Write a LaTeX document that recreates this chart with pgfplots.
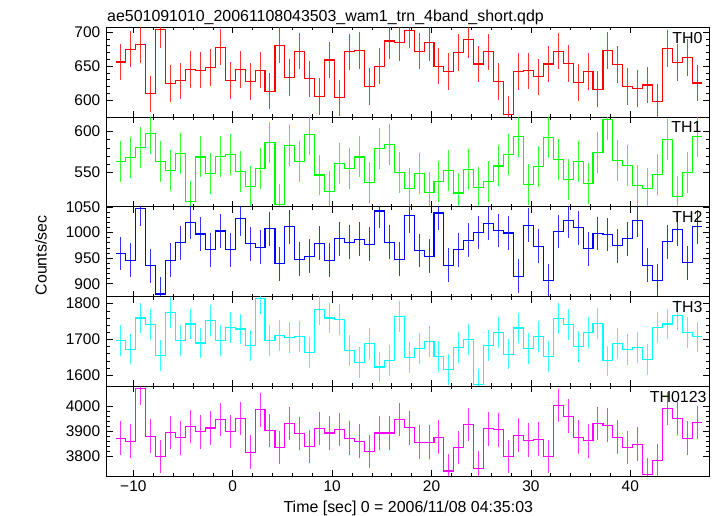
\documentclass[border=0pt]{standalone}
\usepackage{fontspec}
\setmainfont{Liberation Sans}
\usepackage{pgfplots}
\usepackage{pgfplotstable}
\pgfplotsset{compat=1.18}

\pgfplotstableread{
x a b c d e w
-11.75 656 563 959 1698 3871 0
-11.25 656 563 959 1698 3871 1
-10.25 675 568 946 1673 3859 1
-9.25 682 581 1046 1760 4069 1
-8.25 609 598 935 1741 3879 1
-7.25 704 564 880 1656 3799 1
-6.25 624 552 946 1775 3894 1
-5.25 628 573 980 1698 3873 1
-4.25 645 515 1020 1743 3918 1
-3.25 644 569 997 1690 3897 1
-2.25 648 549 966 1753 3912 1
-1.25 678 570 1003 1698 3946 1
-0.25 629 572 966 1734 3898 1
0.75 645 551 1027 1729 3950 1
1.75 627 533 978 1684 3816 1
2.75 644 555 971 1814 3984 1
3.75 613 587 1007 1698 3902 1
4.75 681 511 939 1710 3835 1
5.75 633 583 1011 1706 3930 1
6.75 672 563 948 1709 3890 1
7.75 631 596 954 1664 3839 1
8.75 605 547 979 1783 3910 1
9.75 659 527 946 1760 3892 1
10.75 603 561 988 1756 3906 1
11.75 671 555 981 1668 3871 1
12.75 673 569 987 1636 3859 1
13.75 620 538 977 1689 3819 1
14.75 650 579 1042 1623 3892 1
15.75 687 584 981 1641 3892 1
16.75 685 550 948 1765 3946 1
17.75 703 531 1033 1650 3913 1
18.75 672 549 965 1675 3856 1
19.75 685 526 954 1694 3856 1
20.75 650 539 1038 1653 3875 1
21.75 642 552 936 1616 3741 1
22.75 670 525 966 1678 3835 1
23.75 689 554 985 1699 3926 1
24.75 653 532 1000 1575 3752 1
25.75 671 539 1018 1684 3909 1
26.75 627 558 1004 1719 3905 1
27.75 578 572 999 1659 3798 1
28.75 642 594 915 1732 3883 1
29.75 643 535 1014 1675 3863 1
30.75 634 557 973 1709 3868 1
31.75 653 593 906 1653 3799 1
32.75 672 566 1002 1759 4002 1
33.75 654 541 1023 1742 3959 1
34.75 626 563 1009 1680 3875 1
35.75 642 537 968 1719 3861 1
36.75 616 574 998 1745 3930 1
37.75 673 615 996 1640 3923 1
38.75 652 565 974 1689 3876 1
39.75 620 559 988 1672 3835 1
40.75 617 534 1024 1677 3848 1
41.75 622 531 936 1644 3726 1
42.75 597 548 906 1733 3782 1
43.75 676 590 982 1743 3990 1
44.75 655 521 1006 1768 3950 1
45.75 663 550 941 1720 3871 1
46.75 625 594 1011 1707 3934 1
47.25 625 594 1011 1707 3934 0
}\data

\definecolor{cR}{RGB}{255,0,0}
\definecolor{cG}{RGB}{0,255,0}
\definecolor{cB}{RGB}{0,0,255}
\definecolor{cC}{RGB}{0,255,255}
\definecolor{cM}{RGB}{255,0,255}

\pgfplotsset{
  panel/.style={
    scale only axis, width=602.6bp, height=89.7bp,
    xmin=-12.68, xmax=47.95, anchor=south west,
    tick align=inside, tick pos=both,
    xtick={-10,0,10,20,30,40}, minor x tick num=4,
    xticklabels={},
    major tick length=6bp, minor tick length=3bp,
    axis line style={line width=0.8bp},
    every tick/.style={black, line width=0.6bp},
    yticklabel style={font=\fontsize{15.5}{17}\selectfont, xshift=-3bp},
    xticklabel style={font=\fontsize{15.5}{17}\selectfont, yshift=-1bp},
    minor y tick num=4,
  },
  stp/.style={draw=#1, line width=1.1bp, const plot mark mid, mark=none},
  ebar/.style={draw=none, mark=none, forget plot,
    error bars/y dir=both, error bars/y explicit, error bars/error mark=none,
    error bars/error bar style={draw=#1, line width=1bp, solid, draw opacity=0.8}},
}

\begin{document}
\begin{tikzpicture}
\useasboundingbox (0,0) rectangle (717bp,516bp);

% TH0
\begin{axis}[panel, at={(106.7bp,398.8bp)}, ymin=574.4, ymax=707,
  ytick={600,650,700}, yticklabels={600,650,700}]
\addplot[stp=cR] table[x=x, y=a] {\data};
\addplot[ebar=cR] table[x=x, y=a, y error expr=27*\thisrow{w}] {\data};
\node[anchor=north east, inner sep=0pt, font=\fontsize{16}{18}\selectfont] at (rel axis cs:1,1) [xshift=-6.6bp, yshift=-4.2bp] {TH0};
\end{axis}

% TH1
\begin{axis}[panel, at={(106.7bp,309.1bp)}, ymin=508.1, ymax=617.5,
  ytick={550,600}, yticklabels={550,600}]
\addplot[stp=cG] table[x=x, y=b] {\data};
\addplot[ebar=cG] table[x=x, y=b, y error expr=25*\thisrow{w}] {\data};
\node[anchor=north east, inner sep=0pt, font=\fontsize{16}{18}\selectfont] at (rel axis cs:1,1) [xshift=-7.6bp, yshift=-4.2bp] {TH1};
\end{axis}

% TH2
\begin{axis}[panel, at={(106.7bp,219.4bp)}, ymin=874.9, ymax=1050,
  ytick={900,950,1000,1050}, yticklabels={900,950,1000,1050}]
\addplot[stp=cB] table[x=x, y=c] {\data};
\addplot[ebar=cB] table[x=x, y=c, y error expr=33*\thisrow{w}] {\data};
\node[anchor=north east, inner sep=0pt, font=\fontsize{16}{18}\selectfont] at (rel axis cs:1,1) [xshift=-6.6bp, yshift=-4.2bp] {TH2};
\end{axis}

% TH3
\begin{axis}[panel, at={(106.7bp,129.7bp)}, ymin=1569, ymax=1819.7,
  ytick={1600,1700,1800}, yticklabels={1600,1700,1800}]
\addplot[stp=cC] table[x=x, y=d] {\data};
\addplot[ebar=cC] table[x=x, y=d, y error expr=43*\thisrow{w}] {\data};
\node[anchor=north east, inner sep=0pt, font=\fontsize{16}{18}\selectfont] at (rel axis cs:1,1) [xshift=-6.6bp, yshift=-4.2bp] {TH3};
\end{axis}

% TH0123
\begin{axis}[panel, at={(106.7bp,40bp)}, ymin=3721, ymax=4078,
  ytick={3800,3900,4000}, yticklabels={3800,3900,4000},
  xticklabels={−10,0,10,20,30,40}]
\addplot[stp=cM] table[x=x, y=e] {\data};
\addplot[ebar=cM] table[x=x, y=e, y error expr=67*\thisrow{w}] {\data};
\node[anchor=north east, inner sep=0pt, font=\fontsize{16}{18}\selectfont] at (rel axis cs:1,1) [xshift=-2.6bp, yshift=-4.7bp] {TH0123};
\end{axis}

\node[anchor=base west, inner sep=0pt, font=\fontsize{16}{18}\selectfont] at (107bp,494.3bp) {ae501091010\_20061108043503\_wam1\_trn\_4band\_short.qdp};
\node[anchor=base, inner sep=0pt, font=\fontsize{16}{18}\selectfont] at (408.3bp,4bp) {Time [sec] 0 = 2006/11/08 04:35:03};
\node[anchor=base, rotate=90, inner sep=0pt, font=\fontsize{16}{18}\selectfont] at (46.7bp,260.5bp) {Counts/sec};
\end{tikzpicture}
\end{document}
